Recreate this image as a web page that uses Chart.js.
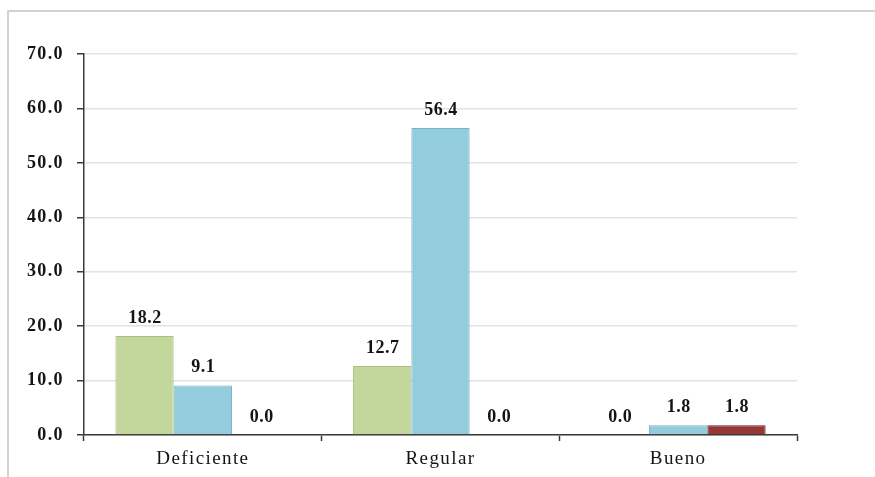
<!DOCTYPE html>
<html>
<head>
<meta charset="utf-8">
<script src="https://cdn.jsdelivr.net/npm/chart.js@4/dist/chart.umd.min.js"></script>
<style>
  html, body { margin: 0; padding: 0; background: #ffffff; }
  canvas { display: block; }
</style>
</head>
<body>
<canvas id="chart" width="875" height="477"></canvas>
<script>
// Categories and series values (percentages)
const categories = ['Deficiente', 'Regular', 'Bueno'];
const serieVerde = [18.2, 12.7, 0.0];
const serieAzul  = [9.1, 56.4, 1.8];
const serieRoja  = [0.0, 0.0, 1.8];
const yTicks = [0, 10, 20, 30, 40, 50, 60, 70];

const textColor = '#141414';
const serif = '"Liberation Serif", "Times New Roman", serif';

// Light frame on the top and left edges of the figure
const framePlugin = {
  id: 'frame',
  beforeDraw(chart) {
    const ctx = chart.ctx;
    ctx.save();
    ctx.strokeStyle = '#c4c4c4';
    ctx.lineWidth = 1.5;
    ctx.beginPath();
    ctx.moveTo(8, chart.height);
    ctx.lineTo(8, 11);
    ctx.lineTo(chart.width, 11);
    ctx.stroke();
    ctx.restore();
    // wide Times-like lettering for the axis labels
    ctx.letterSpacing = '1.4px';
  }
};

// Value labels above each bar
const valueLabels = {
  id: 'valueLabels',
  afterDatasetsDraw(chart) {
    const ctx = chart.ctx;
    ctx.save();
    ctx.letterSpacing = '0.5px';
    ctx.font = 'bold 18px ' + serif;
    ctx.fillStyle = textColor;
    ctx.textAlign = 'center';
    ctx.textBaseline = 'middle';
    chart.data.datasets.forEach((ds, i) => {
      const meta = chart.getDatasetMeta(i);
      meta.data.forEach((bar, j) => {
        ctx.fillText(ds.data[j].toFixed(1), bar.x + 0.5, bar.y - 18);
      });
    });
    ctx.restore();
  }
};

const noBorderAtZero = c => (c.raw === 0 ? 0 : 1);

new Chart(document.getElementById('chart'), {
  type: 'bar',
  data: {
    labels: categories,
    datasets: [
      { data: serieVerde, backgroundColor: '#c3d69b', borderColor: '#a9c27c', borderWidth: noBorderAtZero },
      { data: serieAzul,  backgroundColor: '#93cddd', borderColor: '#76b5c9', borderWidth: noBorderAtZero },
      { data: serieRoja,  backgroundColor: '#953735', borderColor: '#6a2120', borderWidth: noBorderAtZero }
    ]
  },
  options: {
    responsive: false,
    animation: false,
    devicePixelRatio: 1,
    layout: { padding: { top: 54, right: 78, bottom: 0, left: 0 } },
    datasets: {
      bar: { categoryPercentage: 0.736, barPercentage: 1.0, borderSkipped: 'bottom' }
    },
    plugins: {
      legend: { display: false },
      tooltip: { enabled: false }
    },
    scales: {
      x: {
        afterFit(scale) { scale.height = 42; },
        grid: {
          display: true,
          offset: true,
          drawOnChartArea: false,
          drawTicks: true,
          tickLength: 6,
          tickColor: '#3a3a3a',
          tickWidth: 1.5
        },
        border: { display: true, color: '#3a3a3a', width: 1.5 },
        ticks: {
          color: textColor,
          padding: 7,
          font: { family: serif, size: 19, weight: 'normal' }
        }
      },
      y: {
        min: 0,
        max: 70,
        afterFit(scale) { scale.width = 84; },
        afterBuildTicks(scale) { scale.ticks = yTicks.map(v => ({ value: v })); },
        grid: {
          color: '#e2e2e2',
          lineWidth: 1.5,
          drawTicks: true,
          tickLength: 7,
          tickColor: '#3a3a3a',
          tickWidth: 1.5
        },
        border: { display: true, color: '#3a3a3a', width: 1.5 },
        ticks: {
          color: textColor,
          padding: 13,
          font: { family: serif, size: 18, weight: 'bold' },
          callback: v => Number(v).toFixed(1)
        }
      }
    }
  },
  plugins: [framePlugin, valueLabels]
});
</script>
</body>
</html>
